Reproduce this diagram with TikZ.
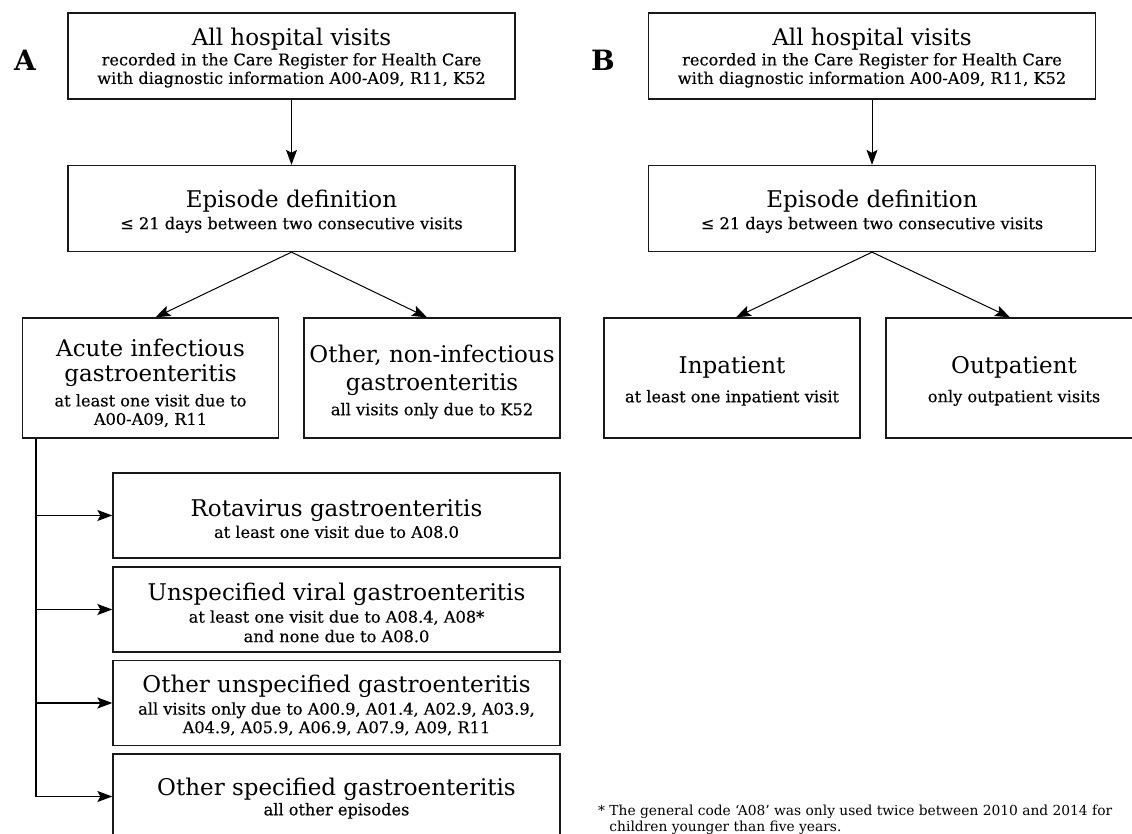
\documentclass[tikz,border=0pt]{standalone}
\usepackage{fontspec}
\setmainfont{DejaVu Serif}
\newfontfamily\subfam[FakeBold=0.35]{DejaVu Serif}
\usetikzlibrary{arrows.meta,calc}
\newcommand\BoxTitle[1]{{\normalfont\fontsize{23}{26}\selectfont #1}}
\newcommand\PushDown[1]{\rule{0pt}{\dimexpr 17.5pt+2\dimexpr #1pt\relax\relax}}
\begin{document}
\begin{tikzpicture}[x=1pt,y=-1pt,
  boxbase/.style={draw=black!90, line width=1.3pt, align=center, inner sep=0pt,
    font=\subfam\fontsize{16.2}{18.5}\selectfont},
  bigbox/.style={boxbase, minimum width=447pt, minimum height=86pt},
  longbox/.style={boxbase, minimum width=447pt, minimum height=85pt},
  midbox/.style={boxbase, minimum width=256pt, minimum height=120pt},
  conn/.style={line width=1pt, -{Stealth[length=15pt,width=11pt,inset=3pt]}},
  trunkconn/.style={conn, line width=1.4pt},
  panel/.style={font=\bfseries\fontsize{28}{30}\selectfont},
  note/.style={font=\fontsize{13.8}{16}\selectfont, align=left, anchor=north west, inner sep=0pt}]
\useasboundingbox (0,0) rectangle (1132,834);
\clip (0,0) rectangle (1132,834);

% ---------- Panel A ----------
\node[panel] (labA) at (25,60) {A};
\node[bigbox] (A1) at (291.5,56)
  {\BoxTitle{\PushDown{2}All hospital visits}\\[1pt]
   recorded in the Care Register for Health Care\\
   with diagnostic information A00-A09, R11, K52};
\node[bigbox] (A2) at (291.5,208.5)
  {\BoxTitle{\PushDown{3}Episode definition}\\[3pt]
   ≤ 21 days between two consecutive visits};
\node[midbox] (A3) at (150.5,378)
  {\BoxTitle{\PushDown{5}Acute infectious}\\[7pt]
   \BoxTitle{gastroenteritis}\\[6pt]
   at least one visit due to\\
   A00-A09, R11};
\node[midbox] (A4) at (432,378)
  {\BoxTitle{\PushDown{4}Other, non-infectious}\\[7pt]
   \BoxTitle{gastroenteritis}\\[6pt]
   all visits only due to K52};
\node[longbox] (R1) at (336.5,515.5)
  {\BoxTitle{\PushDown{3}Rotavirus gastroenteritis}\\[3pt]
   at least one visit due to A08.0};
\node[longbox] (R2) at (336.5,609.5)
  {\BoxTitle{\PushDown{3}Unspecified viral gastroenteritis}\\[4pt]
   at least one visit due to A08.4, A08*\\[1pt]
   and none due to A08.0};
\node[longbox] (R3) at (336.5,703)
  {\BoxTitle{\PushDown{2}Other unspecified gastroenteritis}\\[4pt]
   all visits only due to A00.9, A01.4, A02.9, A03.9,\\
   A04.9, A05.9, A06.9, A07.9, A09, R11};
\node[longbox] (R4) at (336.5,796.5)
  {\BoxTitle{\PushDown{2}Other specified gastroenteritis}\\[1pt]
   all other episodes};

\draw[conn] (A1) -- (A2);
\draw[conn] (A2.south) -- ([xshift=5pt]A3.north);
\draw[conn] (A2.south) -- ([xshift=-5pt]A4.north);
\coordinate (trunk) at ([xshift=14pt]A3.south west);
\draw[trunkconn] (trunk) |- (R4.west);
\draw[trunkconn] (trunk |- R1.west) -- (R1.west);
\draw[trunkconn] (trunk |- R2.west) -- (R2.west);
\draw[trunkconn] (trunk |- R3.west) -- (R3.west);

% ---------- Panel B ----------
\node[panel] (labB) at (603,60) {B};
\node[bigbox] (B1) at (872,56)
  {\BoxTitle{\PushDown{2}All hospital visits}\\[1pt]
   recorded in the Care Register for Health Care\\
   with diagnostic information A00-A09, R11, K52};
\node[bigbox] (B2) at (872,208.5)
  {\BoxTitle{\PushDown{3}Episode definition}\\[3pt]
   ≤ 21 days between two consecutive visits};
\node[midbox] (B3) at (732,378)
  {\BoxTitle{\PushDown{3}Inpatient}\\[10pt]
   at least one inpatient visit};
\node[midbox] (B4) at (1014,378)
  {\BoxTitle{\PushDown{3}Outpatient}\\[10pt]
   only outpatient visits};

\draw[conn] (B1) -- (B2);
\draw[conn] (B2.south) -- ([xshift=4pt]B3.north);
\draw[conn] (B2.south) -- ([xshift=-4pt]B4.north);

% ---------- Footnote ----------
\node[note] (fn) at (598,805)
  {* The general code ‘A08’ was only used twice between 2010 and 2014 for\\
   \hphantom{* }children younger than five years.};
\end{tikzpicture}
\end{document}
